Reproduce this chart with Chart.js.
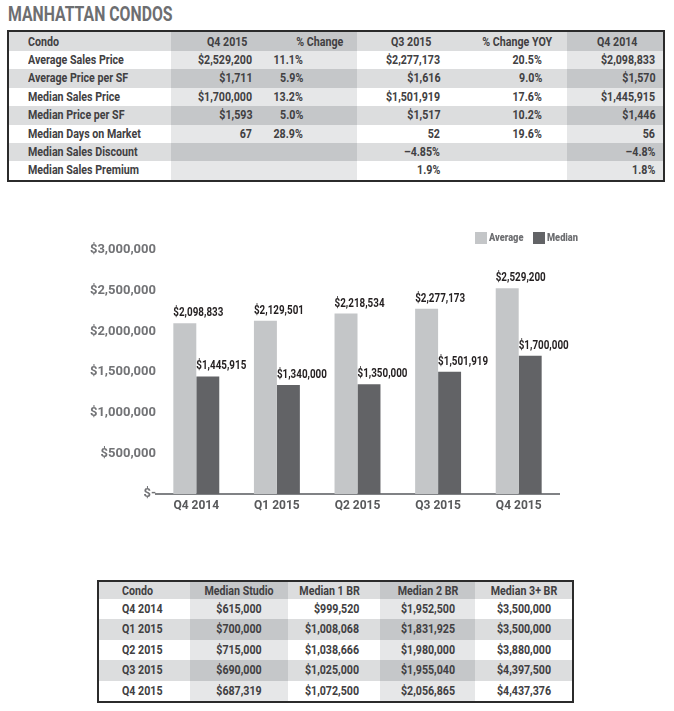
<!DOCTYPE html>
<html lang="en">
<head>
<meta charset="UTF-8">
<title>Manhattan Condos</title>
<script src="https://cdn.jsdelivr.net/npm/chart.js"></script>
<style>
  body {
    margin: 0; width: 674px; height: 711px; position: relative; overflow: hidden; background: #fff;
    font-family: Roboto, "Liberation Sans", sans-serif; font-weight: bold; color: #414042;
  }
  .squeeze { display: inline-block; white-space: nowrap; transform-origin: left center; }
  h1 { position: absolute; left: 8px; top: 4px; margin: 0; font-size: 20px; line-height: 20px; color: #6d6e71; }
  h1 .squeeze { transform: scaleX(0.79); }
  .box { position: absolute; border: 2px solid #2b2b2b; font-size: 13px; }
  .cell { position: absolute; overflow: visible; }
  .txt { position: absolute; top: 0; white-space: nowrap; }
  #chartWrap { position: absolute; left: 0; top: 200px; width: 674px; height: 330px; }
  .legend { position: absolute; top: 232px; font-size: 11px; line-height: 12px; color: #6d6e71; white-space: nowrap; }
  .legend i { position: absolute; left: 0; top: 0; width: 12px; height: 12px; }
  .legend b { position: absolute; left: 14px; top: 0; transform: scaleX(0.84); transform-origin: left center; }
</style>
</head>
<body>
  <h1><span class="squeeze">MANHATTAN CONDOS</span></h1>
  <div class="box" id="box1" style="left:7px; top:30px;"></div>
  <div id="chartWrap"><canvas id="priceChart"></canvas></div>
  <div id="legend"></div>
  <div class="box" id="box2" style="left:97px; top:580px;"></div>

<script>
  const FONT = 'Roboto, "Liberation Sans", sans-serif';
  const SQ = 0.82; // horizontal squeeze to mimic the condensed face

  // top table
  const table1Header = ['Condo', 'Q4 2015', '% Change', 'Q3 2015', '% Change YOY', 'Q4 2014'];
  const metrics = ['Average Sales Price', 'Average Price per SF', 'Median Sales Price', 'Median Price per SF',
                   'Median Days on Market', 'Median Sales Discount', 'Median Sales Premium'];
  const q42015 = ['$2,529,200', '$1,711', '$1,700,000', '$1,593', '67', '', ''];
  const pctChange = ['11.1%', '5.9%', '13.2%', '5.0%', '28.9%', '', ''];
  const q32015 = ['$2,277,173', '$1,616', '$1,501,919', '$1,517', '52', '–4.85%', '1.9%'];
  const pctChangeYoy = ['20.5%', '9.0%', '17.6%', '10.2%', '19.6%', '', ''];
  const q42014 = ['$2,098,833', '$1,570', '$1,445,915', '$1,446', '56', '–4.8%', '1.8%'];

  // bar chart
  const quarters = ['Q4 2014', 'Q1 2015', 'Q2 2015', 'Q3 2015', 'Q4 2015'];
  const averagePrice = [2098833, 2129501, 2218534, 2277173, 2529200];
  const medianPrice = [1445915, 1340000, 1350000, 1501919, 1700000];
  const seriesNames = ['Average', 'Median'];
  const seriesColors = ['#c4c6c8', '#626366'];
  const yMax = 3000000;
  const yStep = 500000;

  // bottom table
  const table2Header = ['Condo', 'Median Studio', 'Median 1 BR', 'Median 2 BR', 'Median 3+ BR'];
  const medianStudio = ['$615,000', '$700,000', '$715,000', '$690,000', '$687,319'];
  const median1Br = ['$999,520', '$1,008,068', '$1,038,666', '$1,025,000', '$1,072,500'];
  const median2Br = ['$1,952,500', '$1,831,925', '$1,980,000', '$1,955,040', '$2,056,865'];
  const median3Br = ['$3,500,000', '$3,500,000', '$3,880,000', '$4,397,500', '$4,437,376'];

  function cellColor(grayRow, shadedCol) {
    if (grayRow) return shadedCol ? '#c5c7c9' : '#dcddde';
    return shadedCol ? '#e6e7e8' : '#ffffff';
  }

  function buildTable(boxId, cols, header, rows, headerH, rowH, isGray) {
    const box = document.getElementById(boxId);
    const all = [header].concat(rows);
    let y = 0, x = 0;
    all.forEach((row, r) => {
      const h = r === 0 ? headerH : rowH;
      x = 0;
      row.forEach((text, c) => {
        const col = cols[c];
        const cell = document.createElement('div');
        cell.className = 'cell';
        Object.assign(cell.style, {
          left: x + 'px', top: y + 'px', width: col.w + 'px', height: h + 'px',
          lineHeight: h + 'px', background: cellColor(r === 0 || isGray(r - 1), col.shaded)
        });
        if (text) {
          const [align, pad] = r === 0 ? col.head : col.body;
          const t = document.createElement('span');
          t.className = 'txt';
          t.textContent = text;
          if (align === 'left') {
            t.style.left = pad + 'px';
            t.style.transformOrigin = 'left center';
            t.style.transform = 'scaleX(' + SQ + ')';
          } else if (align === 'right') {
            t.style.right = pad + 'px';
            t.style.transformOrigin = 'right center';
            t.style.transform = 'scaleX(' + SQ + ')';
          } else {
            t.style.left = '50%';
            t.style.transformOrigin = 'center';
            t.style.transform = 'translateX(-50%) scaleX(' + SQ + ')';
          }
          cell.appendChild(t);
        }
        box.appendChild(cell);
        x += col.w;
      });
      y += h;
    });
    box.style.width = x + 'px';
    box.style.height = y + 'px';
  }

  const cols1 = [
    { w: 162, shaded: false, head: ['left', 19], body: ['left', 19] },
    { w: 107, shaded: true, head: ['right', 31], body: ['right', 26] },
    { w: 79, shaded: true, head: ['right', 14], body: ['right', 54] },
    { w: 113, shaded: false, head: ['right', 39], body: ['right', 30] },
    { w: 97, shaded: false, head: ['right', 15], body: ['right', 25] },
    { w: 96, shaded: true, head: ['right', 26], body: ['right', 8] }
  ];
  const rows1 = metrics.map((m, i) => [m, q42015[i], pctChange[i], q32015[i], pctChangeYoy[i], q42014[i]]);
  buildTable('box1', cols1, table1Header, rows1, 19, 18.375, i => i % 2 === 1);

  const cols2 = [
    { w: 91, shaded: false, head: ['left', 23], body: ['left', 23] },
    { w: 98, shaded: true, head: ['center'], body: ['center'] },
    { w: 92, shaded: false, head: ['right', 20], body: ['right', 21] },
    { w: 95, shaded: true, head: ['center'], body: ['center'] },
    { w: 97, shaded: false, head: ['center'], body: ['center'] }
  ];
  const rows2 = quarters.map((q, i) => [q, medianStudio[i], median1Br[i], median2Br[i], median3Br[i]]);
  buildTable('box2', cols2, table2Header, rows2, 17, 20.4, i => i % 2 === 1);

  // legend
  const legendX = [475, 533];
  const legend = document.getElementById('legend');
  seriesNames.forEach((name, i) => {
    const d = document.createElement('div');
    d.className = 'legend';
    d.style.left = legendX[i] + 'px';
    d.innerHTML = '<i style="background:' + seriesColors[i] + '"></i><b>' + name + '</b>';
    legend.appendChild(d);
  });

  function money(v) {
    return '$' + v.toLocaleString('en-US');
  }

  // value labels above each bar, starting at its left edge
  const valueLabels = {
    id: 'valueLabels',
    afterDatasetsDraw(chart) {
      const ctx = chart.ctx;
      ctx.save();
      ctx.font = 'bold 12px ' + FONT;
      ctx.fillStyle = '#231f20';
      ctx.textAlign = 'left';
      ctx.textBaseline = 'alphabetic';
      chart.data.datasets.forEach((ds, i) => {
        chart.getDatasetMeta(i).data.forEach((bar, j) => {
          ctx.save();
          ctx.translate(bar.x - bar.width / 2, bar.y - 7);
          ctx.scale(SQ, 1);
          ctx.fillText(money(ds.data[j]), 0, 0);
          ctx.restore();
        });
      });
      ctx.restore();
    }
  };

  Chart.defaults.font.family = FONT;
  Chart.defaults.font.weight = 'bold';

  new Chart(document.getElementById('priceChart'), {
    type: 'bar',
    data: {
      labels: quarters,
      datasets: [
        { label: seriesNames[0], data: averagePrice, backgroundColor: seriesColors[0] },
        { label: seriesNames[1], data: medianPrice, backgroundColor: seriesColors[1] }
      ]
    },
    options: {
      responsive: true,
      maintainAspectRatio: false,
      animation: false,
      layout: { padding: { top: 50, right: 115, bottom: 6, left: 0 } },
      plugins: { legend: { display: false }, tooltip: { enabled: false } },
      datasets: { bar: { categoryPercentage: 0.57, barPercentage: 1.0 } },
      scales: {
        x: {
          grid: { display: false, drawTicks: false },
          border: { display: true, color: '#808285', width: 2 },
          ticks: { color: '#58595b', font: { size: 12, weight: 'bold' }, padding: 5 },
          afterFit(s) { s.height = 30; }
        },
        y: {
          min: 0,
          max: yMax,
          grid: { display: false, drawTicks: false },
          border: { display: false },
          ticks: {
            stepSize: yStep,
            color: '#727376',
            font: { size: 13, weight: 'bold' },
            padding: 0,
            callback: v => v === 0 ? '$-' : money(v)
          },
          afterFit(s) { s.width = 156; }
        }
      }
    },
    plugins: [valueLabels]
  });
</script>
</body>
</html>
